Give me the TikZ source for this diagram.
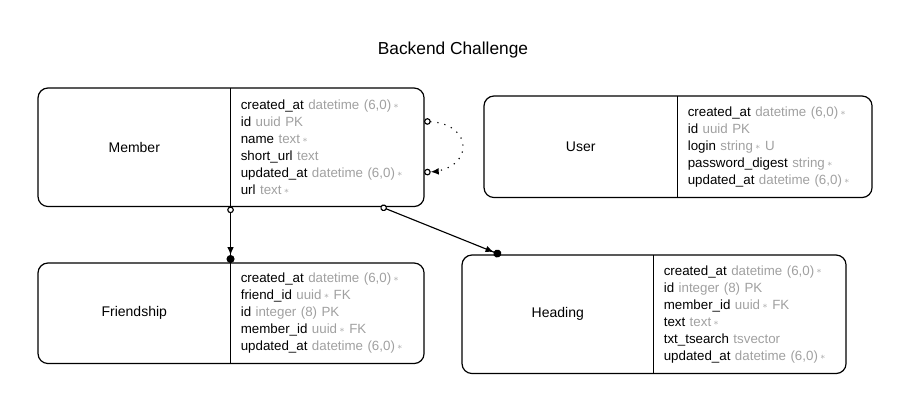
\documentclass[tikz,border=0pt]{standalone}
\usepackage{fontspec}
\setmainfont{Liberation Sans}
\usetikzlibrary{arrows.meta, positioning}
\definecolor{typegray}{HTML}{A0A0A0}
\newcommand{\fld}[2]{#1 \textcolor{typegray}{#2}}
\newcommand{\reqmark}{\,\raisebox{0.15ex}{\scriptsize$\ast$}}
\tikzset{
    x=0.75pt, y=-0.75pt, % One unit is one pixel of the page, y goes down
    entity/.style={ % Left half of a table, holds its name
        inner sep=0pt,
        anchor=north west,
        font=\fontsize{10.5}{12}\selectfont
    },
    fields/.style={ % Right half of a table, one column per line
        inner xsep=7.5pt, inner ysep=0pt,
        align=left,
        font=\fontsize{10}{12.8}\selectfont
    },
    frame/.style={draw, line width=0.9pt, rounded corners=7.5pt},
    rel/.style={ % Relation between two tables
        draw, line width=0.85pt,
        {Circle[open, fill=white, length=5pt]}-{Latex[length=6pt, width=5pt] Circle[length=6pt]}
    },
    selfref/.style={ % Relation of a table to itself
        draw, line width=0.85pt,
        dash pattern=on 0.9pt off 4.5pt,
        {Circle[open, fill=white, length=5pt]}-{Latex[length=6pt, width=5pt] Circle[open, fill=white, length=5pt]}
    }
}
\begin{document}
\begin{tikzpicture}
            \useasboundingbox (0,0) rectangle (907,411);
            \node[font=\fontsize{13}{15}\selectfont] (title) at (453,50) {Backend Challenge};

            \node[entity, minimum width=144pt, minimum height=88.5pt] (member) at (38,88) {Member};
            \node[fields, minimum height=88.5pt, text width=129.75pt, right=0pt of member] (memberf) {%
                \fld{created\_at}{datetime (6,0)\reqmark}\\
                \fld{id}{uuid PK}\\
                \fld{name}{text\reqmark}\\
                \fld{short\_url}{text}\\
                \fld{updated\_at}{datetime (6,0)\reqmark}\\
                \fld{url}{text\reqmark}};

            \node[entity, minimum width=144.75pt, minimum height=75.75pt] (user) at (484,96) {User};
            \node[fields, minimum height=75.75pt, text width=130.5pt, right=0pt of user] (userf) {%
                \fld{created\_at}{datetime (6,0)\reqmark}\\
                \fld{id}{uuid PK}\\
                \fld{login}{string\reqmark{} U}\\
                \fld{password\_digest}{string\reqmark}\\
                \fld{updated\_at}{datetime (6,0)\reqmark}};

            \node[entity, minimum width=144pt, minimum height=75pt] (friendship) at (38,263) {Friendship};
            \node[fields, minimum height=75pt, text width=129.75pt, right=0pt of friendship] (friendshipf) {%
                \fld{created\_at}{datetime (6,0)\reqmark}\\
                \fld{friend\_id}{uuid\reqmark{} FK}\\
                \fld{id}{integer (8) PK}\\
                \fld{member\_id}{uuid\reqmark{} FK}\\
                \fld{updated\_at}{datetime (6,0)\reqmark}};

            \node[entity, minimum width=143.25pt, minimum height=88.5pt] (heading) at (462,255) {Heading};
            \node[fields, minimum height=88.5pt, text width=129pt, right=0pt of heading] (headingf) {%
                \fld{created\_at}{datetime (6,0)\reqmark}\\
                \fld{id}{integer (8) PK}\\
                \fld{member\_id}{uuid\reqmark{} FK}\\
                \fld{text}{text\reqmark}\\
                \fld{txt\_tsearch}{tsvector}\\
                \fld{updated\_at}{datetime (6,0)\reqmark}};

            % table outlines and dividers
            \foreach \t in {member, user, friendship, heading} {
                \draw[frame] (\t.north west) rectangle (\t f.south east);
                \draw[line width=0.9pt] (\t f.north west) -- (\t f.south west);
            }

            \draw[rel] (memberf.south west) -- (friendshipf.north west);
            \draw[rel] ([shift={(150,0)}]memberf.south west) -- ([shift={(39,0)}]heading.north west);
            \draw[selfref] ([shift={(0,-26)}]memberf.east) .. controls +(50,3) and +(50,-3) .. ([shift={(0,25)}]memberf.east);
        \end{tikzpicture}
\end{document}
